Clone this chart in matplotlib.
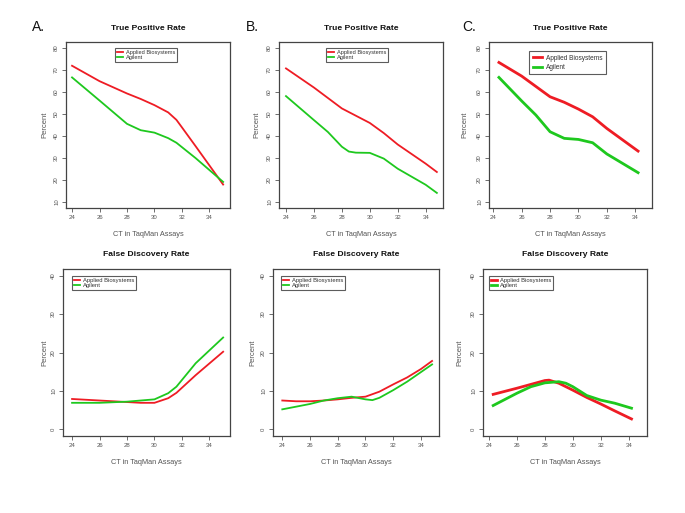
import matplotlib
matplotlib.use("Agg")
import matplotlib.pyplot as plt

plt.rcParams['font.family'] = ['Liberation Sans', 'DejaVu Sans']

series_names = ["Applied Biosystems", "Agilent"]
panel_labels = ["A.", "B.", "C."]
x_label = "CT in TaqMan Assays"
y_label = "Percent"
tpr_title = "True Positive Rate"
fdr_title = "False Discovery Rate"

# True Positive Rate
tpr_a_ab_x = [24, 26, 28, 29, 30, 31, 31.6, 32, 33, 34, 35]
tpr_a_ab_y = [71.8, 64.8, 59.2, 56.7, 53.9, 50.6, 47.2, 43.8, 35.2, 26.5, 17.8]
tpr_a_ag_x = [24, 26, 28, 29, 30, 31, 31.6, 33, 35]
tpr_a_ag_y = [66.5, 56.0, 45.4, 42.5, 41.4, 38.9, 36.8, 29.8, 19.0]

tpr_b_ab_x = [24, 26, 28, 29, 30, 31, 32, 34, 34.8]
tpr_b_ab_y = [70.6, 61.9, 52.4, 49.1, 45.8, 41.2, 36.0, 27.3, 23.5]
tpr_b_ag_x = [24, 26, 27, 28, 28.5, 29, 30, 31, 32, 34, 34.8]
tpr_b_ag_y = [58.0, 47.1, 41.7, 35.0, 32.8, 32.3, 32.2, 29.6, 25.0, 17.7, 14.0]

tpr_c_ab_x = [24.4, 26, 28, 29, 30, 31, 32, 34.2]
tpr_c_ab_y = [73.3, 67.1, 57.7, 55.2, 52.1, 48.6, 43.3, 33.0]
tpr_c_ag_x = [24.4, 26, 27, 28, 29, 30, 31, 32, 34.2]
tpr_c_ag_y = [66.5, 55.8, 49.4, 41.8, 38.8, 38.3, 36.8, 31.7, 23.2]

# False Discovery Rate
fdr_a_ab_x = [24, 26, 28, 29, 30, 31, 31.6, 33, 35]
fdr_a_ab_y = [7.9, 7.5, 7.1, 6.9, 6.9, 8.1, 9.5, 14.1, 20.2]
fdr_a_ag_x = [24, 26, 28, 30, 31, 31.6, 33, 35]
fdr_a_ag_y = [6.9, 6.9, 7.2, 7.8, 9.4, 11.1, 17.2, 23.9]

fdr_b_ab_x = [24, 25, 26, 27, 28, 29, 30, 31, 32, 33, 34, 34.8]
fdr_b_ab_y = [7.5, 7.3, 7.3, 7.5, 7.8, 8.2, 8.5, 9.8, 11.7, 13.5, 15.7, 17.8]
fdr_b_ag_x = [24, 25, 26, 27, 28, 29, 30, 30.5, 31, 32, 33, 34.8]
fdr_b_ag_y = [5.2, 5.9, 6.6, 7.5, 8.1, 8.5, 7.8, 7.6, 8.2, 10.2, 12.4, 16.9]

fdr_c_ab_x = [24.3, 26, 27, 28, 28.3, 29, 30, 31, 32, 33, 34.2]
fdr_c_ab_y = [9.1, 10.7, 11.7, 12.7, 12.8, 12.0, 10.2, 8.3, 6.6, 4.8, 2.7]
fdr_c_ag_x = [24.3, 26, 27, 28, 29, 29.5, 30, 31, 32, 33, 34.2]
fdr_c_ag_y = [6.2, 9.4, 11.1, 12.1, 12.4, 12.0, 11.1, 8.8, 7.6, 6.8, 5.5]

x_ticks = [24, 26, 28, 30, 32, 34]
tpr_y_ticks = [10, 20, 30, 40, 50, 60, 70, 80]
fdr_y_ticks = [0, 10, 20, 30, 40]

RED = "#ee1c24"
GREEN = "#1ec81e"
W, H = 685, 513

fig = plt.figure(figsize=(6.85, 5.13), dpi=100)

def px_axes(l, t, r, b):
    return fig.add_axes([l / W, 1 - b / H, (r - l) / W, (b - t) / H])

top_specs = [
    ((66, 42, 230, 208), (23.56, 35.5), 45, (0.30, 0.964), 1.3, 4.1),
    ((279, 42, 443, 208), (23.5, 35.24), 257, (0.287, 0.964), 1.3, 4.1),
    ((489, 42, 652, 208), (23.7, 35.18), 465, (0.245, 0.946), 2.0, 4.7),
]
bot_specs = [
    ((63, 269, 230, 436), (23.34, 35.5), 45, (0.054, 0.958), 1.3, 4.2),
    ((273, 269, 439, 436), (23.33, 35.3), 253, (0.048, 0.958), 1.3, 4.2),
    ((483, 269, 647, 436), (23.57, 35.31), 460, (0.037, 0.958), 2.0, 4.2),
]
tpr_data = [
    (tpr_a_ab_x, tpr_a_ab_y, tpr_a_ag_x, tpr_a_ag_y),
    (tpr_b_ab_x, tpr_b_ab_y, tpr_b_ag_x, tpr_b_ag_y),
    (tpr_c_ab_x, tpr_c_ab_y, tpr_c_ag_x, tpr_c_ag_y),
]
fdr_data = [
    (fdr_a_ab_x, fdr_a_ab_y, fdr_a_ag_x, fdr_a_ag_y),
    (fdr_b_ab_x, fdr_b_ab_y, fdr_b_ag_x, fdr_b_ag_y),
    (fdr_c_ab_x, fdr_c_ab_y, fdr_c_ag_x, fdr_c_ag_y),
]
panel_label_x = [32, 246, 462]

def style(ax, box, xlim, ylim, yticks, title, ylab_x, lw, data, leg_anchor, leg_fs, big_leg):
    l, t, r, b = box
    ax.set_xlim(*xlim)
    ax.set_ylim(*ylim)
    ax.set_xticks(x_ticks)
    ax.set_yticks(yticks)
    ax.tick_params(axis='both', labelsize=4.3, colors='#555555', length=3, width=0.6, pad=2)
    for lab in ax.get_yticklabels():
        lab.set_rotation(90)
        lab.set_va('center')
    for s in ax.spines.values():
        s.set_color('#444444')
        s.set_linewidth(0.9)
    abx, aby, agx, agy = data
    ax.plot(abx, aby, color=RED, lw=lw, label=series_names[0], solid_joinstyle='round')
    ax.plot(agx, agy, color=GREEN, lw=lw, label=series_names[1], solid_joinstyle='round')
    leg = ax.legend(loc='upper left', bbox_to_anchor=leg_anchor, fontsize=leg_fs,
                    frameon=True, fancybox=False, edgecolor='#333333',
                    handlelength=1.5 if big_leg else 1.1, handletextpad=0.5,
                    borderpad=0.55 if big_leg else 0.3,
                    labelspacing=0.35 if big_leg else 0.05,
                    borderaxespad=0)
    leg.get_frame().set_linewidth(0.8)
    for txt in leg.get_texts():
        txt.set_color('#333333')
    fig.text((l + r) / 2 / W, 1 - (t - 14) / H, title, ha='center', va='center',
             fontsize=6.1, fontweight='bold', color='#111111')
    fig.text((l + r) / 2 / W, 1 - (b + 26) / H, x_label, ha='center', va='center',
             fontsize=5.3, color='#555555')
    fig.text(ylab_x / W, 1 - ((t + b) / 2) / H, y_label, ha='center', va='center',
             fontsize=5.5, color='#555555', rotation=90)

for i in range(3):
    box, xlim, ylx, anchor, lw, fs = top_specs[i]
    ax = px_axes(*box)
    style(ax, box, xlim, (7.14, 82.6), tpr_y_ticks, tpr_title, ylx, lw, tpr_data[i], anchor, fs, i == 2)
    fig.text(panel_label_x[i] / W, 1 - 27 / H, panel_labels[i], ha='left', va='center',
             fontsize=10, color='#111111')

for i in range(3):
    box, xlim, ylx, anchor, lw, fs = bot_specs[i]
    ax = px_axes(*box)
    style(ax, box, xlim, (-1.74, 41.74), fdr_y_ticks, fdr_title, ylx, lw, fdr_data[i], anchor, fs, False)

fig.savefig("out.png", dpi=100)
